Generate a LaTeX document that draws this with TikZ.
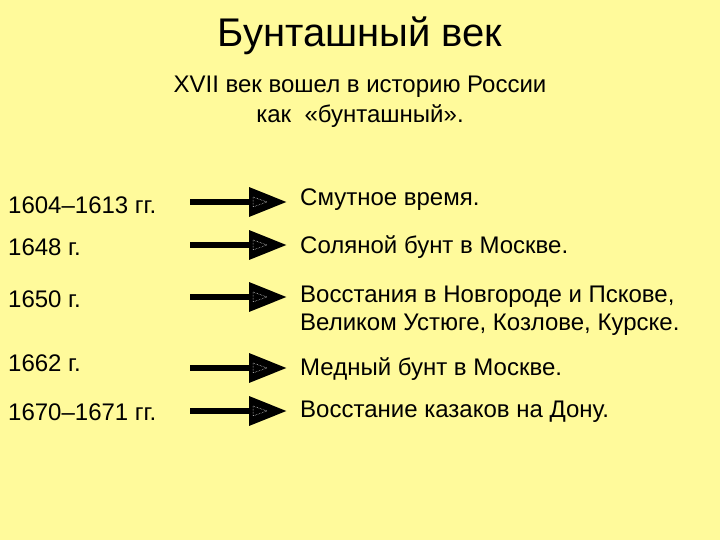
\documentclass[tikz,border=0pt]{standalone}
\usepackage{fontspec}
\setmainfont{Liberation Sans}
\usetikzlibrary{arrows.meta}
\definecolor{bg}{RGB}{255,250,155}
\tikzset{
  date/.style={anchor=west, inner sep=0pt, font=\fontsize{24}{28}\selectfont},
  event/.style={anchor=west, inner sep=0pt, font=\fontsize{24}{28}\selectfont, align=left},
  bigarrow/.style={line width=6.5pt, -{Triangle[length=38pt,width=28pt]}},
}
\newcommand{\innertri}[1]{\draw[white, densely dotted, line width=0.5pt] (253,#1-5) -- (267,#1) -- (253,#1+5) -- cycle;}
\begin{document}
\begin{tikzpicture}[x=1pt,y=-1pt]
\fill[bg] (0,0) rectangle (720,540);
\useasboundingbox (0,0) rectangle (720,540);
\node[font=\fontsize{40}{44}\selectfont, inner sep=0pt] (title) at (360,36) {Бунташный век};
\node[font=\fontsize{24}{30}\selectfont, align=center, inner sep=0pt] (sub) at (360,102) {XVII век вошел в историю России\\как \ «бунташный».};

\node[date] (d1) at (8,205) {1604–1613 гг.};
\node[date] (d2) at (8,247) {1648 г.};
\node[date] (d3) at (8,299) {1650 г.};
\node[date] (d4) at (8,363) {1662 г.};
\node[date] (d5) at (8,412) {1670–1671 гг.};

\node[event] (e1) at (300,200) {Смутное время.};
\node[event] (e2) at (300,247) {Соляной бунт в Москве.};
\node[event] (e3) at (300,311) {Восстания в Новгороде и Пскове,\\Великом Устюге, Козлове, Курске.};
\node[event] (e4) at (300,369) {Медный бунт в Москве.};
\node[event] (e5) at (300,412) {Восстание казаков на Дону.};

\foreach \i/\y in {1/202,2/245,3/297,4/368,5/411}{
  \coordinate (s\i) at (190,\y);
  \coordinate (t\i) at (287,\y);
  \draw[bigarrow] (s\i) -- (t\i);
  \innertri{\y}
}
\end{tikzpicture}
\end{document}
